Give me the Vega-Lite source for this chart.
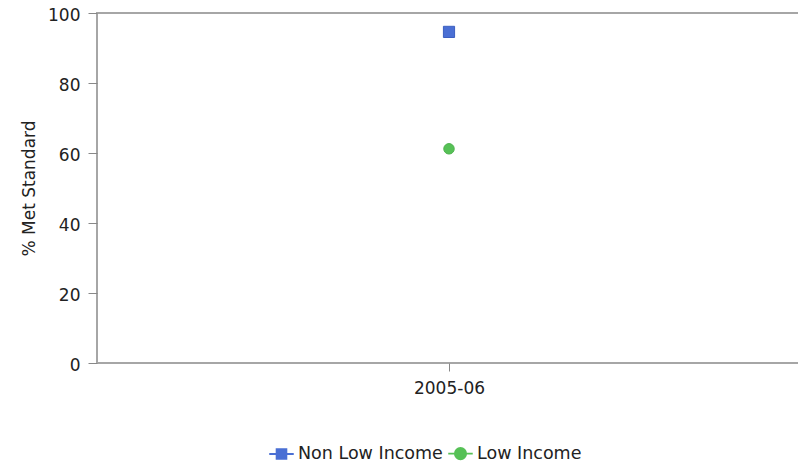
{
  "$schema": "https://vega.github.io/schema/vega-lite/v6.json",
  "width": 704,
  "height": 350,
  "autosize": "none",
  "padding": {"left": 97, "top": 13, "right": 0, "bottom": 104},
  "background": "white",
  "data": {"values": [
    {"year": "2005-06", "group": "Non Low Income", "pct": 94.6},
    {"year": "2005-06", "group": "Low Income", "pct": 61.2}
  ]},
  "encoding": {
    "x": {"field": "year", "type": "nominal", "title": null,
      "axis": {"labelAngle": 0, "tickSize": 8, "labelPadding": 9, "domain": false}},
    "y": {"field": "pct", "type": "quantitative", "title": "% Met Standard",
      "scale": {"domain": [0, 100]},
      "axis": {"values": [0, 20, 40, 60, 80, 100], "grid": false, "tickSize": 9, "labelPadding": 8, "labelOffset": 2, "titlePadding": 9, "domain": false}},
    "color": {"field": "group", "type": "nominal", "sort": ["Non Low Income", "Low Income"],
      "scale": {"domain": ["Non Low Income", "Low Income"], "range": ["#4a6fd4", "#56c156"]},
      "legend": {"title": null, "orient": "none", "direction": "horizontal", "legendX": 171, "legendY": 427,
        "symbolSize": 600, "symbolStrokeWidth": 1.8, "labelOffset": 3, "columnPadding": 1,
        "encoding": {"symbols": {
          "shape": {"condition": {"test": "datum.value === 'Non Low Income'", "value": "M-1,0H-0.4M0.4,0H1M-0.4,-0.4H0.4V0.4H-0.4Z"}, "value": "M-1,0H-0.46M0.46,0H1M-0.46,0A0.46,0.46 0 1,0 0.46,0A0.46,0.46 0 1,0 -0.46,0Z"},
          "stroke": {"condition": {"test": "datum.value === 'Non Low Income'", "value": "#4a6fd4"}, "value": "#56c156"},
          "fill": {"condition": {"test": "datum.value === 'Non Low Income'", "value": "#4a6fd4"}, "value": "#56c156"}
        }}}}
  },
  "layer": [
    {"transform": [{"filter": "datum.group === 'Non Low Income'"}],
     "mark": {"type": "point", "shape": "square", "filled": true, "size": 125, "opacity": 1, "strokeWidth": 1, "stroke": "#3b5fc0"}},
    {"transform": [{"filter": "datum.group === 'Low Income'"}],
     "mark": {"type": "point", "shape": "circle", "filled": true, "size": 110, "opacity": 1, "strokeWidth": 1, "stroke": "#4fb24f"}}
  ],
  "config": {
    "font": "DejaVu Sans",
    "view": {"stroke": "#a6a6a6", "strokeWidth": 2},
    "axis": {"labelFont": "DejaVu Sans", "labelFontSize": 17, "labelColor": "#222222",
      "titleFont": "DejaVu Sans", "titleFontSize": 17, "titleFontWeight": "normal", "titleColor": "#222222",
      "tickColor": "#888888", "tickWidth": 1},
    "legend": {"labelFont": "DejaVu Sans", "labelFontSize": 17.5, "labelColor": "#222222"}
  }
}
